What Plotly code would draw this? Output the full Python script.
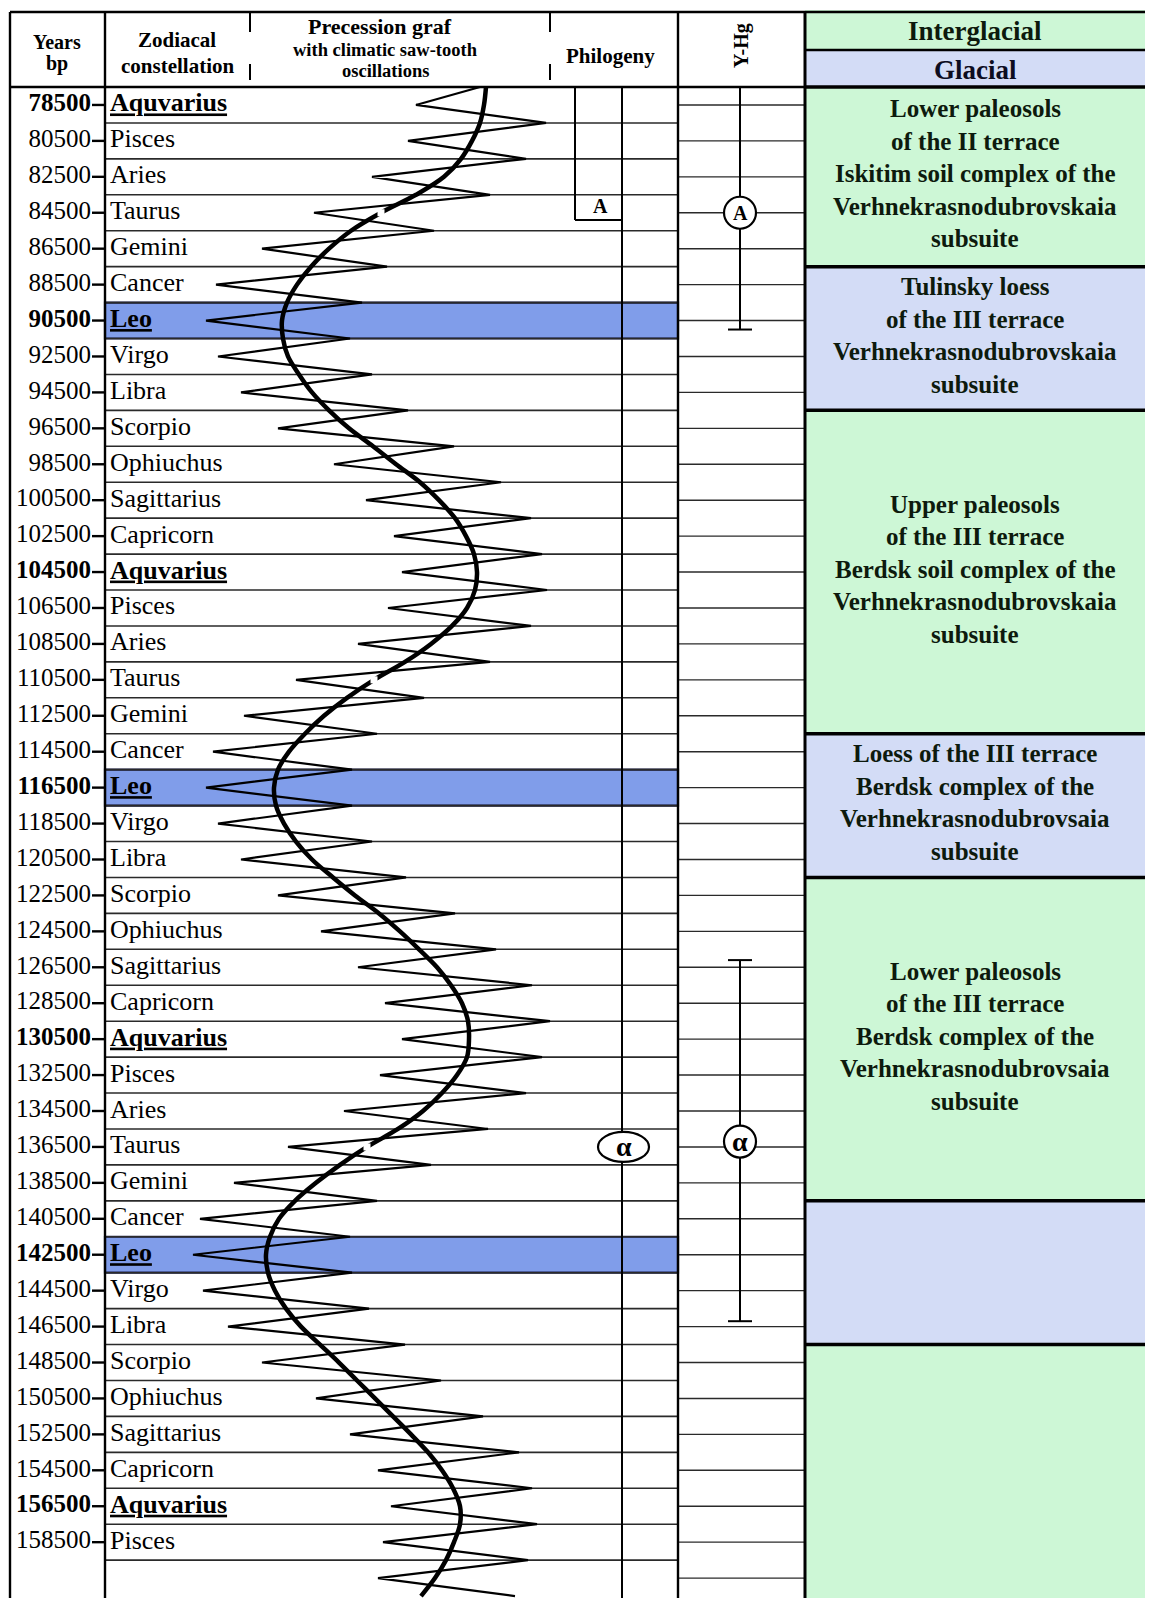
import plotly.graph_objects as go

# ---------------- data ----------------
YEARS = [78500, 80500, 82500, 84500, 86500, 88500, 90500, 92500, 94500, 96500,
         98500, 100500, 102500, 104500, 106500, 108500, 110500, 112500, 114500, 116500,
         118500, 120500, 122500, 124500, 126500, 128500, 130500, 132500, 134500, 136500,
         138500, 140500, 142500, 144500, 146500, 148500, 150500, 152500, 154500, 156500,
         158500]
SIGNS = ["Aquvarius", "Pisces", "Aries", "Taurus", "Gemini", "Cancer", "Leo", "Virgo",
         "Libra", "Scorpio", "Ophiuchus", "Sagittarius", "Capricorn",
         "Aquvarius", "Pisces", "Aries", "Taurus", "Gemini", "Cancer", "Leo", "Virgo",
         "Libra", "Scorpio", "Ophiuchus", "Sagittarius", "Capricorn",
         "Aquvarius", "Pisces", "Aries", "Taurus", "Gemini", "Cancer", "Leo", "Virgo",
         "Libra", "Scorpio", "Ophiuchus", "Sagittarius", "Capricorn",
         "Aquvarius", "Pisces"]
BOLD_SIGNS = ["Aquvarius", "Leo"]
LEO_YEARS = [90500, 116500, 142500]

# smooth precession curve, x read every 1000 years from 77500 to 161500
CURVE_YEARS = list(range(77500, 161501, 1000))
CURVE_X = [486, 484, 480, 472, 461, 444, 416, 381, 351, 329,
           311, 297, 287, 282, 283, 288, 299, 312, 329, 349,
           373, 396, 420, 439, 455, 466, 474, 477, 475, 467,
           452, 431, 405, 374, 347, 324, 305, 289, 278, 274,
           276, 284, 296, 312, 333, 355, 379, 400, 419, 437,
           451, 462, 468, 469, 467, 457, 442, 423, 398, 367,
           340, 316, 295, 279, 270, 266, 268, 275, 286, 301,
           320, 339, 357, 375, 393, 411, 428, 442, 453, 460,
           460, 454, 446, 435, 421]
CURVE_BREAKS = [84500, 110500, 136500]

# saw-tooth oscillation: left tips at row centres, right tips at row boundaries
SAW_START_X = 480
SAW_LEFT_X = [416, 408, 372, 314, 262, 216, 206, 218, 241, 278,
              334, 366, 394, 402, 388, 358, 296, 244, 213, 206,
              218, 241, 278, 321, 358, 385, 402, 380, 344, 288,
              234, 200, 193, 203, 228, 262, 316, 350, 378, 391,
              383, 378]
SAW_RIGHT_X = [546, 526, 490, 434, 387, 362, 350, 372, 408, 454,
               501, 531, 542, 547, 531, 490, 424, 377, 352, 352,
               372, 406, 455, 496, 532, 550, 542, 526, 488, 431,
               377, 350, 352, 369, 405, 441, 483, 519, 532, 537,
               528, 515]

# right panel: stratigraphic units
PANEL_BOUNDS = [77500, 87500, 95500, 113500, 121500, 139500, 147500, 162000]
PANEL_KIND = ["inter", "glac", "inter", "glac", "inter", "glac", "inter"]
PANEL_TEXT = [
    ["Lower paleosols", "of the II terrace", "Iskitim soil complex of the",
     "Verhnekrasnodubrovskaia", "subsuite"],
    ["Tulinsky loess", "of the III terrace", "Verhnekrasnodubrovskaia", "subsuite"],
    ["Upper paleosols", "of the III terrace", "Berdsk soil complex of the",
     "Verhnekrasnodubrovskaia", "subsuite"],
    ["Loess of the III terrace", "Berdsk complex of the",
     "Verhnekrasnodubrovsaia", "subsuite"],
    ["Lower paleosols", "of the III terrace", "Berdsk complex of the",
     "Verhnekrasnodubrovsaia", "subsuite"],
    [], [],
]

# Y-Hg haplogroup ranges (years) and circle labels
YHG_RANGES = [(77500, 91000, 84500, "A"), (126100, 146200, 136200, "α")]
PHIL_A_BOTTOM = 84900
PHIL_ALPHA_Y = 136500

# ---------------- layout helpers ----------------
W, H = 1167, 1598
ROW_PX = 35.93
TOP_PX = 87


def yr(px):
    return 77500 + (px - TOP_PX) * 2000 / ROW_PX


YPX = 2000 / ROW_PX  # years per pixel

X_L, X_YR, X_ZOD, X_PREC, X_PA, X_PL, X_PH, X_YL, X_YH, X_PR = (
    10, 105, 250, 550, 575, 622, 678, 740, 805, 1145)

FONT = "Liberation Serif, Times New Roman, serif"
GREEN = "#cdf7d6"
LBLUE = "#d3dcf6"
LEO = "#809dea"
GRID = "#2a2a2a"

shapes = []


def line(x0, y0, x1, y1, w=1.6, c=GRID, layer="below"):
    shapes.append(dict(type="line", x0=x0, y0=y0, x1=x1, y1=y1, layer=layer,
                       line=dict(color=c, width=w)))


def rect(x0, y0, x1, y1, fill, lw=0, lc="black", layer="below"):
    shapes.append(dict(type="rect", x0=x0, y0=y0, x1=x1, y1=y1, layer=layer,
                       fillcolor=fill, line=dict(color=lc, width=lw)))


y_top = yr(12)
y_bot = yr(H)

# right panel fills
rect(X_YH, yr(10), X_PR, yr(50), GREEN)
rect(X_YH, yr(50), X_PR, 77500, LBLUE)
for i, kind in enumerate(PANEL_KIND):
    rect(X_YH, PANEL_BOUNDS[i], X_PR, PANEL_BOUNDS[i + 1],
         GREEN if kind == "inter" else LBLUE)

# Leo bands
for y in LEO_YEARS:
    rect(X_YR, y - 1000, X_PH, y + 1000, LEO, lw=2.2, lc="#1b1f4d")

# row boundary lines
for y in YEARS:
    line(X_YR, y + 1000, X_PH, y + 1000, w=1.6)
# Y-Hg lines at row centres
for y in YEARS + [YEARS[-1] + 2000]:
    line(X_PH, y, X_YH, y, w=1.4)
# year ticks
for y in YEARS:
    line(92, y, X_YR, y, w=2.4, c="black")

# frame and dividers
line(X_L, y_top, X_PR, y_top, w=2.4, c="black")
line(X_L, 77500, X_YH, 77500, w=2.4, c="black")
line(X_YH, 77500, X_PR, 77500, w=3.5, c="black")
line(X_YH, yr(50), X_PR, yr(50), w=2.4, c="black")
for b in PANEL_BOUNDS[1:-1]:
    line(X_YH, b, X_PR, b, w=3.5, c="black")
for x in (X_L, X_YR, X_PH):
    line(x, y_top, x, y_bot, w=2.4, c="black")
line(X_YH, y_top, X_YH, y_bot, w=3, c="black")
for x in (X_ZOD, X_PREC):
    line(x, y_top, x, yr(32), w=2, c="black")
    line(x, yr(64), x, yr(80), w=2, c="black")

# philogeny
line(X_PL, 77500, X_PL, y_bot, w=2, c="black")
line(X_PA, 77500, X_PA, PHIL_A_BOTTOM, w=2, c="black")
line(X_PA, PHIL_A_BOTTOM, X_PL, PHIL_A_BOTTOM, w=2, c="black")
shapes.append(dict(type="circle", x0=X_PL - 24, x1=X_PL + 27,
                   y0=PHIL_ALPHA_Y - 15 * YPX, y1=PHIL_ALPHA_Y + 15 * YPX,
                   fillcolor="white", line=dict(color="black", width=2.2), layer="above"))

# Y-Hg ranges
for y0, y1, yc, lab in YHG_RANGES:
    line(X_YL, y0, X_YL, y1, w=2, c="black", layer="above")
    if y0 > 77500:
        line(X_YL - 12, y0, X_YL + 12, y0, w=2, c="black", layer="above")
    line(X_YL - 12, y1, X_YL + 12, y1, w=2, c="black", layer="above")
    shapes.append(dict(type="circle", x0=X_YL - 16, x1=X_YL + 16,
                       y0=yc - 16 * YPX, y1=yc + 16 * YPX,
                       fillcolor="white", line=dict(color="black", width=2.2), layer="above"))

fig = go.Figure()

# saw-tooth
saw_y = [77500]
saw_x = [SAW_START_X]
for i in range(len(SAW_LEFT_X)):
    saw_y += [YEARS[0] + 2000 * i, YEARS[0] + 2000 * i + 1000]
    saw_x += [SAW_LEFT_X[i], SAW_RIGHT_X[i]]
fig.add_trace(go.Scatter(x=saw_x, y=saw_y, mode="lines",
                         line=dict(color="black", width=2.2), hoverinfo="skip"))

# precession curve
fig.add_trace(go.Scatter(x=CURVE_X, y=CURVE_YEARS, mode="lines",
                         line=dict(color="black", width=4.5, shape="spline", smoothing=1.0),
                         hoverinfo="skip"))
bx = [CURVE_X[CURVE_YEARS.index(b)] for b in CURVE_BREAKS]
fig.add_trace(go.Scatter(x=bx, y=CURVE_BREAKS, mode="markers",
                         marker=dict(symbol="square", size=7, color="white",
                                     line=dict(width=0)), hoverinfo="skip"))

# year labels
year_txt = [f"<b>{y}</b>" if s in BOLD_SIGNS else str(y) for y, s in zip(YEARS, SIGNS)]
fig.add_trace(go.Scatter(x=[91] * len(YEARS), y=YEARS, mode="text", text=year_txt,
                         textposition="middle left",
                         textfont=dict(family=FONT, size=25, color="black"), hoverinfo="skip"))
sign_txt = [f"<b><u>{s}</u></b>" if s in BOLD_SIGNS else s for s in SIGNS]
fig.add_trace(go.Scatter(x=[110] * len(YEARS), y=YEARS, mode="text", text=sign_txt,
                         textposition="middle right",
                         textfont=dict(family=FONT, size=26, color="black"), hoverinfo="skip"))

ann = []


def txt(x, px, s, size=21, bold=True, angle=0, color="black", y=None):
    ann.append(dict(x=x, y=yr(px) if y is None else y, text=f"<b>{s}</b>" if bold else s,
                    showarrow=False, textangle=angle, xanchor="center", yanchor="middle",
                    font=dict(family=FONT, size=size, color=color)))


txt(57, 42, "Years", size=20)
txt(57, 63, "bp", size=20)
txt(177, 40, "Zodiacal")
txt(177, 66, "constellation")
txt(380, 26, "Precession graf", size=22)
txt(385, 49.5, "with climatic saw-tooth", size=18.5)
txt(385, 71, "oscillations", size=18.5)
txt(610, 56, "Philogeny")
txt(741, 46, "Y-Hg", size=20, angle=-90)
txt(975, 31, "Interglacial", size=27, color="#0d1a0d")
txt(975, 70, "Glacial", size=27, color="#0d0d1f")

txt(600, 0, "A", size=20, y=84150)
txt(X_PL + 2, 0, "α", size=28, y=PHIL_ALPHA_Y)
for y0, y1, yc, lab in YHG_RANGES:
    txt(X_YL, 0, lab, size=20 if lab == "A" else 28, y=yc)

for i, lines in enumerate(PANEL_TEXT):
    if not lines:
        continue
    mid = (PANEL_BOUNDS[i] + PANEL_BOUNDS[i + 1]) / 2 - 3 * YPX
    n = len(lines)
    for k, s in enumerate(lines):
        yy = mid + (k - (n - 1) / 2) * 32.5 * YPX
        txt(975, 0, s, size=25, color="#0d1a0d", y=yy)

fig.update_layout(
    width=W, height=H, margin=dict(l=0, r=0, t=0, b=0),
    paper_bgcolor="white", plot_bgcolor="white", showlegend=False,
    xaxis=dict(range=[0, W], visible=False, fixedrange=True),
    yaxis=dict(range=[y_bot, yr(0)], visible=False, fixedrange=True),
    shapes=shapes, annotations=ann,
)
fig.write_html("out.html", config={"displayModeBar": False},
               post_script="document.body.style.margin='0';document.body.style.overflow='hidden';")
